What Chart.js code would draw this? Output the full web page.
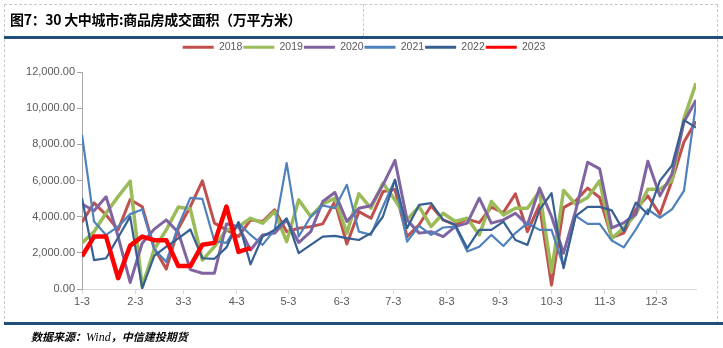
<!DOCTYPE html>
<html><head><meta charset="utf-8">
<script src="https://cdn.jsdelivr.net/npm/chart.js@4"></script>
<style>
html,body{margin:0;padding:0;background:#fff;}
#wrap{position:relative;width:723px;height:348px;overflow:hidden;background:#fff;}
#c{position:absolute;left:0;top:0;}
.frame{position:absolute;left:4px;top:4px;width:714px;height:320px;border:1px dashed #C8C8C8;border-bottom:none;box-sizing:border-box;}
.vdiv{position:absolute;left:363px;top:4px;height:32px;border-left:1px dashed #C8C8C8;}
.bar{position:absolute;left:4px;right:0;height:3px;background:#1F4E79;}
.title{position:absolute;left:10px;top:9px;font-family:"Noto Sans CJK SC";font-weight:bold;font-size:14px;line-height:20px;color:#000;white-space:nowrap;letter-spacing:-0.3px;}
.src{position:absolute;left:31px;top:328px;font-family:"Noto Sans CJK SC";font-weight:bold;font-style:italic;font-size:11px;line-height:16px;color:#000;white-space:nowrap;}
.src i{font-family:"Liberation Serif";font-weight:normal;font-size:12px;}
</style></head>
<body>
<div id="wrap">
<canvas id="c" width="723" height="348"></canvas>
<div class="frame"></div>
<div class="vdiv"></div>
<div class="bar" style="top:36px"></div>
<div class="bar" style="top:322px"></div>
<div class="title">图7：30 大中城市:商品房成交面积（万平方米）</div>
<div class="src">数据来源：<i>Wind</i>，中信建投期货</div>
</div>
<script>
const weekDates = ['1-3','1-10','1-17','1-24','1-31','2-7','2-14','2-21','2-28','3-7','3-14','3-21','3-28',
  '4-4','4-11','4-18','4-25','5-2','5-9','5-16','5-23','5-30','6-6','6-13','6-20','6-27',
  '7-4','7-11','7-18','7-25','8-1','8-8','8-15','8-22','8-29','9-5','9-12','9-19','9-26',
  '10-3','10-10','10-17','10-24','10-31','11-7','11-14','11-21','11-28','12-5','12-12','12-19','12-26'];
const tickLabels = ['1-3','2-3','3-3','4-3','5-3','6-3','7-3','8-3','9-3','10-3','11-3','12-3'];
const seriesNames = ['2018','2019','2020','2021','2022','2023'];

const s2018 = [3700,4760,4100,3270,4950,4550,2250,1100,3350,4550,5980,3640,3270,2900,3820,3730,4380,3170,3360,3450,
  3600,4840,2490,4280,3910,5390,5500,2900,3550,4600,3820,3550,3860,3670,4530,4230,5260,3170,4650,220,
  4500,4870,5580,5060,2830,3100,4400,5150,4130,5980,8130,9280];
const s2019 = [2550,3170,4200,5110,5960,130,2200,3270,4530,4420,1600,2340,3270,3450,3910,3640,4280,2620,4930,4010,
  4700,5020,3090,5260,4470,5850,4930,3820,4560,3450,4190,3730,3910,2990,4840,4100,4470,4470,5390,960,
  5450,4690,5060,5980,2790,3380,4130,5520,5520,5980,9420,11380];
const s2020 = [4700,4330,5100,2900,360,2530,3310,3820,3130,1070,870,870,3600,3450,2160,2990,3090,3820,2570,3170,
  4840,5340,3730,4470,4600,5760,7110,3820,3090,3170,2900,3450,3640,5020,3640,3820,4190,3550,5580,4010,
  1980,4320,7010,6640,3380,3660,4130,7060,5150,6360,9240,10450];
const s2021 = [8530,3730,2990,3450,4140,4400,2200,1500,3500,5040,4980,2640,2550,3640,2990,2440,3270,6960,2900,4010,
  4620,4470,5760,3170,2990,4560,6040,2620,3490,2990,3400,3450,2070,2340,2990,2380,3090,3640,3270,3270,
  1240,4040,3600,3600,2680,2300,3290,4400,3940,4400,5430,10260];
const s2022 = [5020,1600,1700,2850,4000,40,1830,2340,2800,3290,1700,1670,2300,3700,1360,2900,3270,3910,1980,2440,
  2900,2940,2810,2710,3090,4010,6040,3360,4650,4750,3820,3550,2250,3270,3270,3730,2710,2440,4380,5300,
  1150,4030,4540,4540,4350,3200,4780,4130,5980,6830,9340,8930];
const s2023 = [1800,2900,2900,600,2400,2900,2700,2700,1270,1270,2450,2550,4560,2050,2270];

const seriesValues = [s2018,s2019,s2020,s2021,s2022,s2023];
const colors = ['#C0504D','#9BBB59','#8064A2','#4F81BD','#376092','#FF0000'];
const widths = [3,3.5,3,2.2,2.2,4.5];

function dayOffset(md){
  const p = md.split('-').map(Number);
  return (Date.UTC(2023,p[0]-1,p[1]) - Date.UTC(2023,0,3)) / 86400000;
}
const xs = weekDates.map(dayOffset);
const tickPos = tickLabels.map(dayOffset);

const datasets = seriesNames.map((name,k)=>({
  label: name,
  data: seriesValues[k].map((v,i)=>({x:xs[i], y:v})),
  borderColor: colors[k],
  backgroundColor: colors[k],
  borderWidth: widths[k],
  pointRadius: 0,
  tension: 0,
  borderJoinStyle: 'round',
  order: 5-k
}));

const legendFix = {
  id:'legendFix',
  afterInit(chart){
    const lg = chart.legend; if(!lg) return;
    const f = lg.fit.bind(lg);
    lg.fit = function(){ f(); this.height = 31; };
    const d = lg.draw.bind(lg);
    lg.draw = function(){ const ctx = chart.ctx; ctx.save(); ctx.translate(16,0); d(); ctx.restore(); };
  }
};

const axisFont = {family:'"Liberation Sans", Arial, sans-serif', size:11};
new Chart(document.getElementById('c'), {
  type:'line',
  data:{datasets},
  plugins:[legendFix],
  options:{
    responsive:false, animation:false, devicePixelRatio:1,
    layout:{padding:{top:41,left:0,right:27,bottom:34}},
    plugins:{
      tooltip:{enabled:false},
      legend:{
        position:'top',
        labels:{
          boxWidth:31, boxHeight:3, padding:1, color:'#595959',
          font:{family:'"Liberation Sans", Arial, sans-serif', size:10.5},
          sort:(a,b)=>a.datasetIndex-b.datasetIndex,
          generateLabels(chart){
            const items = Chart.defaults.plugins.legend.labels.generateLabels(chart);
            items.forEach(it=>{ it.lineWidth = 0; it.fillStyle = it.strokeStyle; });
            return items;
          }
        }
      }
    },
    scales:{
      x:{
        type:'linear', min:0, max:xs[xs.length-1],
        afterBuildTicks:s=>{ s.ticks = tickPos.map(v=>({value:v})); },
        afterFit:s=>{ s.height = 25; },
        ticks:{autoSkip:false, maxRotation:0, minRotation:0, padding:1, color:'#595959', font:axisFont,
          callback:(v)=>{ const i = tickPos.indexOf(v); return i>=0 ? tickLabels[i] : ''; }},
        grid:{drawOnChartArea:false, drawTicks:true, tickLength:5, color:'#D9D9D9'},
        border:{display:true, color:'#D9D9D9'}
      },
      y:{
        min:0, max:12000,
        afterFit:s=>{ s.width = 82; },
        ticks:{stepSize:2000, padding:2, color:'#595959', font:axisFont,
          callback:v=>Number(v).toLocaleString('en-US',{minimumFractionDigits:2, maximumFractionDigits:2})},
        grid:{drawOnChartArea:false, drawTicks:true, tickLength:5, color:'#A6A6A6'},
        border:{display:true, color:'#A6A6A6'}
      }
    }
  }
});
</script>
</body></html>
